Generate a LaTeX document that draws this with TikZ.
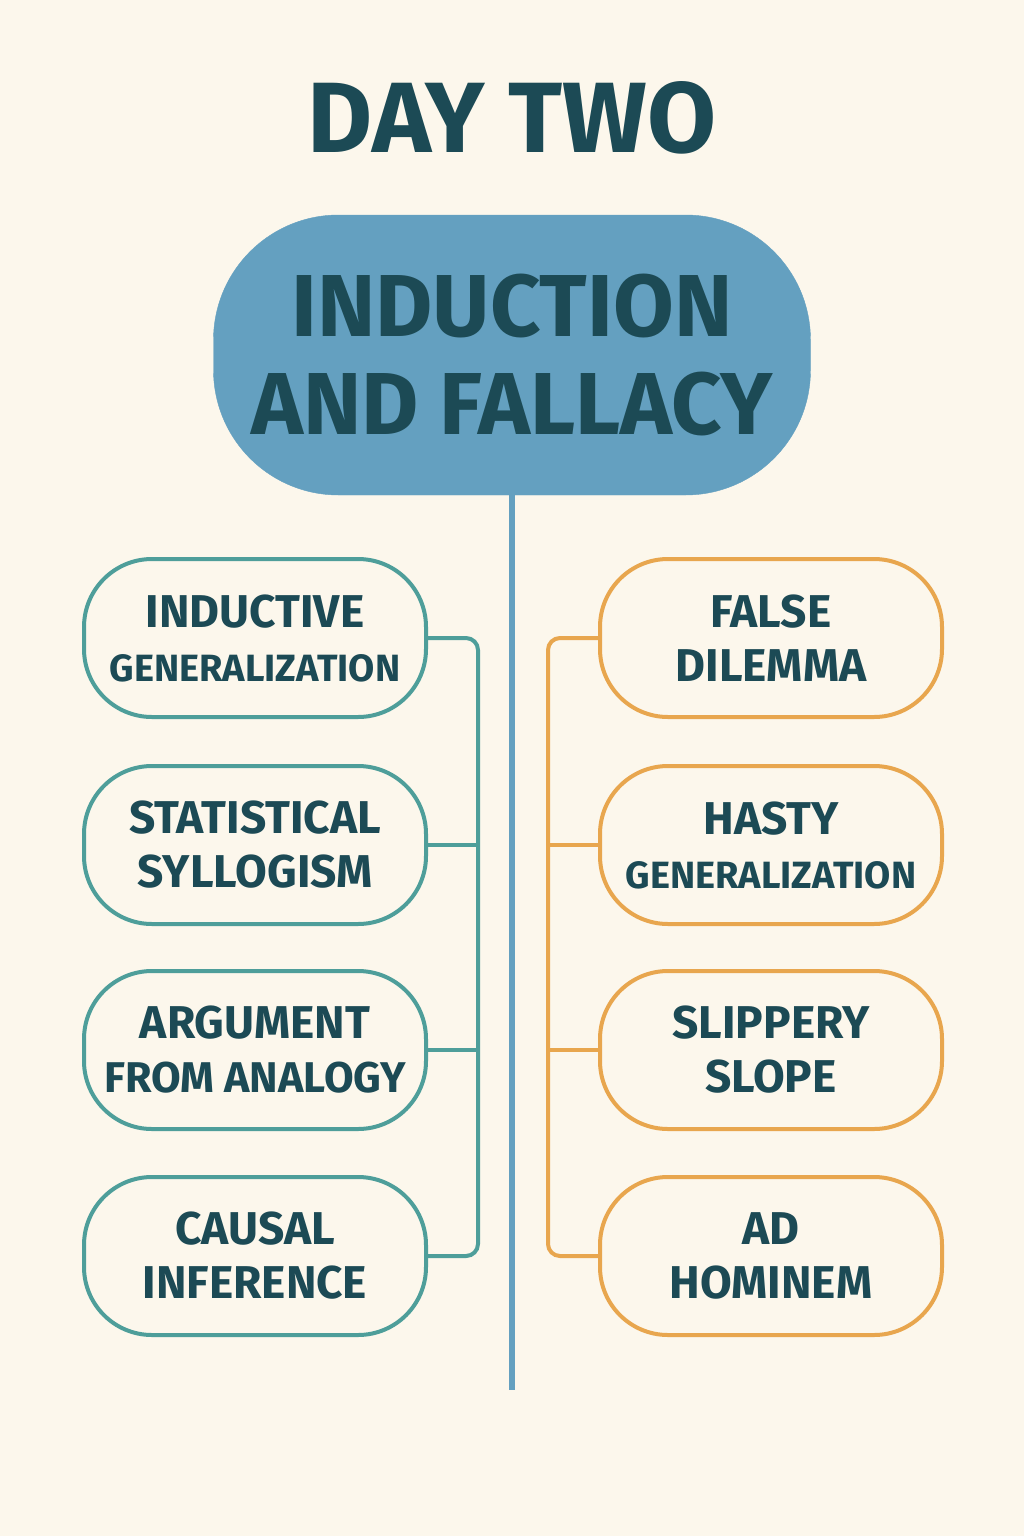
\documentclass[tikz,border=0pt]{standalone}
\usepackage{fontspec}
\setmainfont{Fira Sans}
\usepackage{tikz}
\usetikzlibrary{positioning}
\definecolor{bgcream}{HTML}{FCF7EC}
\definecolor{inkteal}{HTML}{1C4A55}
\definecolor{blobblue}{HTML}{64A0C0}
\definecolor{leftteal}{HTML}{4E9E9A}
\definecolor{rightorange}{HTML}{E8A64E}
\begin{document}
\begin{tikzpicture}[x=1pt,y=-1pt,
  topicbox/.style={draw=#1, line width=4pt, fill=bgcream, rounded corners=68pt,
    minimum width=342pt, minimum height=158pt, align=center, text=inkteal,
    font=\bfseries\fontsize{46}{54}\selectfont},
  branch/.style={draw=#1, line width=4pt, rounded corners=12pt}]
\useasboundingbox[fill=bgcream] (0,0) rectangle (1024,1536);

% Title
\node[text=inkteal, font=\bfseries\fontsize{100}{110}\selectfont] (title) at (512,118) {DAY TWO};

% central spine
\coordinate (spinebot) at (512,1390);
\node[fill=blobblue, draw=blobblue, rounded corners=125pt, minimum width=597pt, minimum height=280pt,
  align=center, text=inkteal, font=\bfseries\fontsize{88}{98}\selectfont] (blob) at (512,355)
  {INDUCTION\\AND FALLACY};
\draw[blobblue, line width=6pt] (blob.south) -- (spinebot);

% left boxes
\node[topicbox=leftteal] (ind) at (255,638) {INDUCTIVE\\{\fontsize{38}{54}\selectfont GENERALIZATION}};
\node[topicbox=leftteal] (stat) at (255,845) {STATISTICAL\\SYLLOGISM};
\node[topicbox=leftteal] (ana) at (255,1050) {ARGUMENT\\{\fontsize{43}{54}\selectfont FROM ANALOGY}};
\node[topicbox=leftteal] (caus) at (255,1256) {CAUSAL\\INFERENCE};

% right boxes
\node[topicbox=rightorange] (fal) at (771,638) {FALSE\\DILEMMA};
\node[topicbox=rightorange] (has) at (771,845) {HASTY\\{\fontsize{38}{54}\selectfont GENERALIZATION}};
\node[topicbox=rightorange] (slip) at (771,1050) {SLIPPERY\\SLOPE};
\node[topicbox=rightorange] (adh) at (771,1256) {AD\\HOMINEM};

% connectors
\coordinate (spL) at (478,0);
\coordinate (spR) at (548,0);
\draw[branch=leftteal] (ind.east) -- (ind.east -| spL) -- (caus.east -| spL) -- (caus.east);
\draw[branch=leftteal] (stat.east) -- (stat.east -| spL);
\draw[branch=leftteal] (ana.east) -- (ana.east -| spL);
\draw[branch=rightorange] (fal.west) -- (fal.west -| spR) -- (adh.west -| spR) -- (adh.west);
\draw[branch=rightorange] (has.west) -- (has.west -| spR);
\draw[branch=rightorange] (slip.west) -- (slip.west -| spR);

\end{tikzpicture}
\end{document}
